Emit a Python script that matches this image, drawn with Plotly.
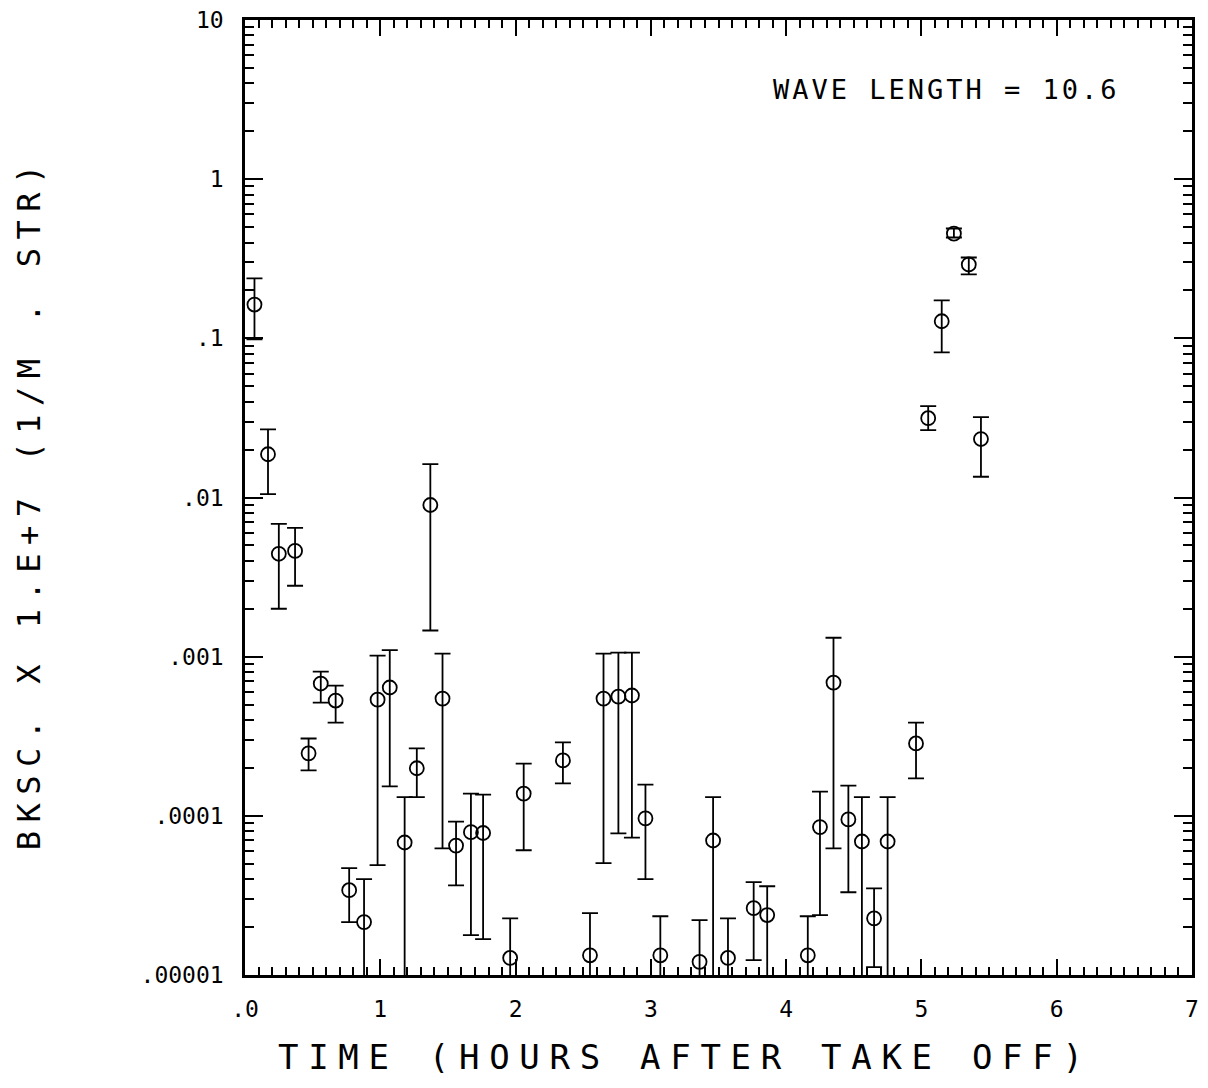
import plotly.graph_objects as go

# Time (hours after take off)
time_h = [0.07, 0.17, 0.25, 0.37, 0.47, 0.56, 0.67, 0.77, 0.88, 0.98,
          1.07, 1.18, 1.27, 1.37, 1.46, 1.56, 1.67, 1.76, 1.96, 2.06,
          2.35, 2.55, 2.65, 2.76, 2.86, 2.96, 3.07, 3.36, 3.46, 3.57,
          3.76, 3.86, 4.16, 4.25, 4.35, 4.46, 4.56, 4.65, 4.75, 4.96,
          5.05, 5.15, 5.24, 5.35, 5.44]

# Backscatter values (x 1.E+7, 1/M.STR)
bksc = [0.163, 0.0187, 0.00443, 0.00462, 0.000247, 0.000678, 0.00053, 3.41e-5, 2.15e-5, 0.000537,
        0.00064, 6.8e-5, 0.000199, 0.00897, 0.000545, 6.5e-5, 7.9e-5, 7.8e-5, 1.28e-5, 0.000138,
        0.000223, 1.33e-5, 0.000545, 0.000561, 0.00057, 9.64e-5, 1.33e-5, 1.21e-5, 7.0e-5, 1.28e-5,
        2.63e-5, 2.38e-5, 1.33e-5, 8.5e-5, 0.000687, 9.5e-5, 6.9e-5, 2.27e-5, 6.9e-5, 0.000285,
        0.0315, 0.128, 0.455, 0.291, 0.0233]

# Upper ends of error bars
bksc_upper = [0.238, 0.0268, 0.00683, 0.00644, 0.000306, 0.000805, 0.000658, 4.69e-5, 4.0e-5, 0.001014,
              0.0011, 0.000131, 0.000265, 0.0162, 0.001045, 9.2e-5, 0.000138, 0.000136, 2.27e-5, 0.000213,
              0.000289, 2.45e-5, 0.001045, 0.00106, 0.00106, 0.000157, 2.34e-5, 2.21e-5, 0.000131, 2.27e-5,
              3.83e-5, 3.61e-5, 2.34e-5, 0.000142, 0.001315, 0.000155, 0.000131, 3.5e-5, 0.000131, 0.000385,
              0.0375, 0.173, 0.49, 0.322, 0.032]

# Lower ends of error bars (1e-6 = runs below the axis)
bksc_lower = [0.0986, 0.0105, 0.0020, 0.00279, 0.000193, 0.000515, 0.000385, 2.15e-5, 1e-6, 4.9e-5,
              0.000153, 1e-6, 0.000131, 0.00146, 6.25e-5, 3.66e-5, 1.78e-5, 1.68e-5, 1e-6, 6.08e-5,
              0.00016, 1e-6, 5.04e-5, 7.76e-5, 7.3e-5, 4.0e-5, 1e-6, 1e-6, 1e-6, 1e-6,
              1.24e-5, 1e-6, 1e-6, 2.38e-5, 6.25e-5, 3.31e-5, 1e-6, 1.12e-5, 1e-6, 0.000172,
              0.0265, 0.0817, 0.43, 0.252, 0.0135]

x_tickvals = [0, 1, 2, 3, 4, 5, 6, 7]
x_ticktext = [".0", "1", "2", "3", "4", "5", "6", "7"]
y_tickvals = [1e-5, 1e-4, 1e-3, 1e-2, 1e-1, 1, 10]
y_ticktext = [".00001", ".0001", ".001", ".01", ".1", "1", "10"]

x_title = "TIME (HOURS AFTER TAKE OFF)"
y_title = "BKSC. X 1.E+7 (1/M . STR)"
note = "WAVE LENGTH = 10.6"

err_plus = [u - v for u, v in zip(bksc_upper, bksc)]
err_minus = [v - l for v, l in zip(bksc, bksc_lower)]

FONT = "DejaVu Sans Mono"


def spaced(text, px):
    return f'<span style="letter-spacing:{px}px">{text}</span>'


fig = go.Figure()
fig.add_trace(go.Scatter(
    x=time_h, y=bksc, mode="markers",
    marker=dict(symbol="circle-open", size=14, color="black", line=dict(width=1.8, color="black")),
    error_y=dict(type="data", symmetric=False, array=err_plus, arrayminus=err_minus,
                 color="black", thickness=1.8, width=8),
    showlegend=False,
))

fig.add_annotation(x=0.926, y=0.927, xref="paper", yref="paper", xanchor="right", yanchor="middle",
                   text=spaced(note, 3), showarrow=False,
                   font=dict(family=FONT, size=27, color="black"))
fig.add_annotation(x=0.465, y=-0.086, xref="paper", yref="paper", xanchor="center", yanchor="middle",
                   text=spaced(x_title, 9.7), showarrow=False,
                   font=dict(family=FONT, size=34, color="black"))
fig.add_annotation(x=-0.228, y=0.494, xref="paper", yref="paper", xanchor="center", yanchor="middle",
                   text=spaced(y_title, 8.5), showarrow=False, textangle=-90,
                   font=dict(family=FONT, size=32, color="black"))

fig.update_layout(
    width=1200, height=1072,
    margin=dict(l=237, r=16, t=12, b=105, autoexpand=False),
    paper_bgcolor="white", plot_bgcolor="white",
    font=dict(family=FONT, color="black"),
    xaxis=dict(range=[0, 7], tickvals=x_tickvals, ticktext=x_ticktext,
               ticks="inside", ticklen=16, tickwidth=2, tickcolor="black",
               minor=dict(dtick=0.1, ticks="inside", ticklen=8, tickwidth=1.5, tickcolor="black"),
               showline=True, linecolor="black", linewidth=2.5, mirror="allticks",
               showgrid=False, zeroline=False, automargin=False,
               tickfont=dict(family=FONT, size=23, color="black"),
               ticklabelstandoff=12, ticklabeloverflow="allow"),
    yaxis=dict(type="log", range=[-5, 1], tickvals=y_tickvals, ticktext=y_ticktext,
               ticks="inside", ticklen=18, tickwidth=2, tickcolor="black",
               minor=dict(ticks="inside", ticklen=9, tickwidth=1.5, tickcolor="black", dtick="D1"),
               showline=True, linecolor="black", linewidth=2.5, mirror="allticks",
               showgrid=False, zeroline=False, automargin=False,
               tickfont=dict(family=FONT, size=23, color="black"),
               ticklabelstandoff=14, ticklabeloverflow="allow"),
)

fig.write_html("out.html")
